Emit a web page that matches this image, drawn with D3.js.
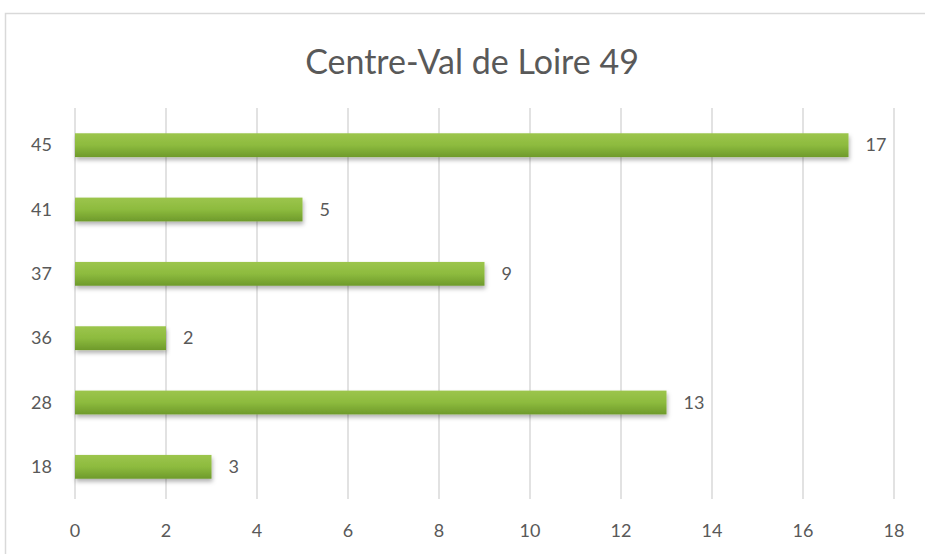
<!DOCTYPE html>
<html>
<head>
<meta charset="utf-8">
<script src="https://cdn.jsdelivr.net/npm/d3@7"></script>
<style>
  body { margin: 0; background: #fff; }
  text { font-family: Lato, "Open Sans", sans-serif; fill: #595959; }
</style>
</head>
<body>
<div id="chart"></div>
<script>
const title = "Centre-Val de Loire 49";
const departments = ["45", "41", "37", "36", "28", "18"];
const counts = [17, 5, 9, 2, 13, 3];
const xTicks = [0, 2, 4, 6, 8, 10, 12, 14, 16, 18];

const width = 925, height = 554;
const margin = { top: 113, right: 31, bottom: 55, left: 75 };

const svg = d3.select("#chart").append("svg")
  .attr("width", width)
  .attr("height", height);

// chart frame
svg.append("rect")
  .attr("x", 5.5).attr("y", 13.5)
  .attr("width", 1000).attr("height", 1000)
  .style("fill", "none")
  .style("stroke", "#d9d9d9")
  .style("stroke-width", 1.5);

const defs = svg.append("defs");
const grad = defs.append("linearGradient")
  .attr("id", "barGrad")
  .attr("x1", "0%").attr("y1", "0%")
  .attr("x2", "0%").attr("y2", "100%");
grad.append("stop").attr("offset", "0%").attr("stop-color", "#9cc54c");
grad.append("stop").attr("offset", "50%").attr("stop-color", "#8dbb3e");
grad.append("stop").attr("offset", "100%").attr("stop-color", "#6e9a2b");

const shadow = defs.append("filter")
  .attr("id", "shadow")
  .attr("x", "-5%").attr("y", "-30%")
  .attr("width", "110%").attr("height", "180%");
shadow.append("feDropShadow")
  .attr("dx", 1).attr("dy", 3)
  .attr("stdDeviation", 2)
  .attr("flood-color", "#000")
  .attr("flood-opacity", 0.3);

const x = d3.scaleLinear()
  .domain([0, 18])
  .range([margin.left, width - margin.right]);

const y = d3.scaleBand()
  .domain(departments)
  .range([margin.top, height - margin.bottom])
  .paddingInner(0.63)
  .paddingOuter(0.315);

// gridlines
svg.append("g").selectAll("line")
  .data(xTicks)
  .enter().append("line")
  .attr("x1", d => x(d)).attr("x2", d => x(d))
  .attr("y1", margin.top - 5)
  .attr("y2", height - margin.bottom)
  .style("stroke", "#d9d9d9")
  .style("stroke-width", 1.5);

// x tick labels
svg.append("g").selectAll("text")
  .data(xTicks)
  .enter().append("text")
  .attr("x", d => x(d))
  .attr("y", 537)
  .attr("text-anchor", "middle")
  .style("font-size", "18px")
  .text(d => d);

// category labels
svg.append("g").selectAll("text")
  .data(departments)
  .enter().append("text")
  .attr("x", 52)
  .attr("y", d => y(d) + y.bandwidth() / 2 + 6)
  .attr("text-anchor", "end")
  .style("font-size", "18px")
  .text(d => d);

// bars
const rows = departments.map((d, i) => ({ dep: d, value: counts[i] }));

svg.append("g").selectAll("rect")
  .data(rows)
  .enter().append("rect")
  .attr("x", x(0))
  .attr("y", d => y(d.dep))
  .attr("width", d => x(d.value) - x(0))
  .attr("height", y.bandwidth())
  .style("fill", "url(#barGrad)")
  .attr("filter", "url(#shadow)");

// value labels
svg.append("g").selectAll("text")
  .data(rows)
  .enter().append("text")
  .attr("x", d => x(d.value) + 17)
  .attr("y", d => y(d.dep) + y.bandwidth() / 2 + 6)
  .style("font-size", "18px")
  .text(d => d.value);

svg.append("text")
  .attr("x", 472)
  .attr("y", 74)
  .attr("text-anchor", "middle")
  .style("font-size", "34px")
  .text(title);
</script>
</body>
</html>
